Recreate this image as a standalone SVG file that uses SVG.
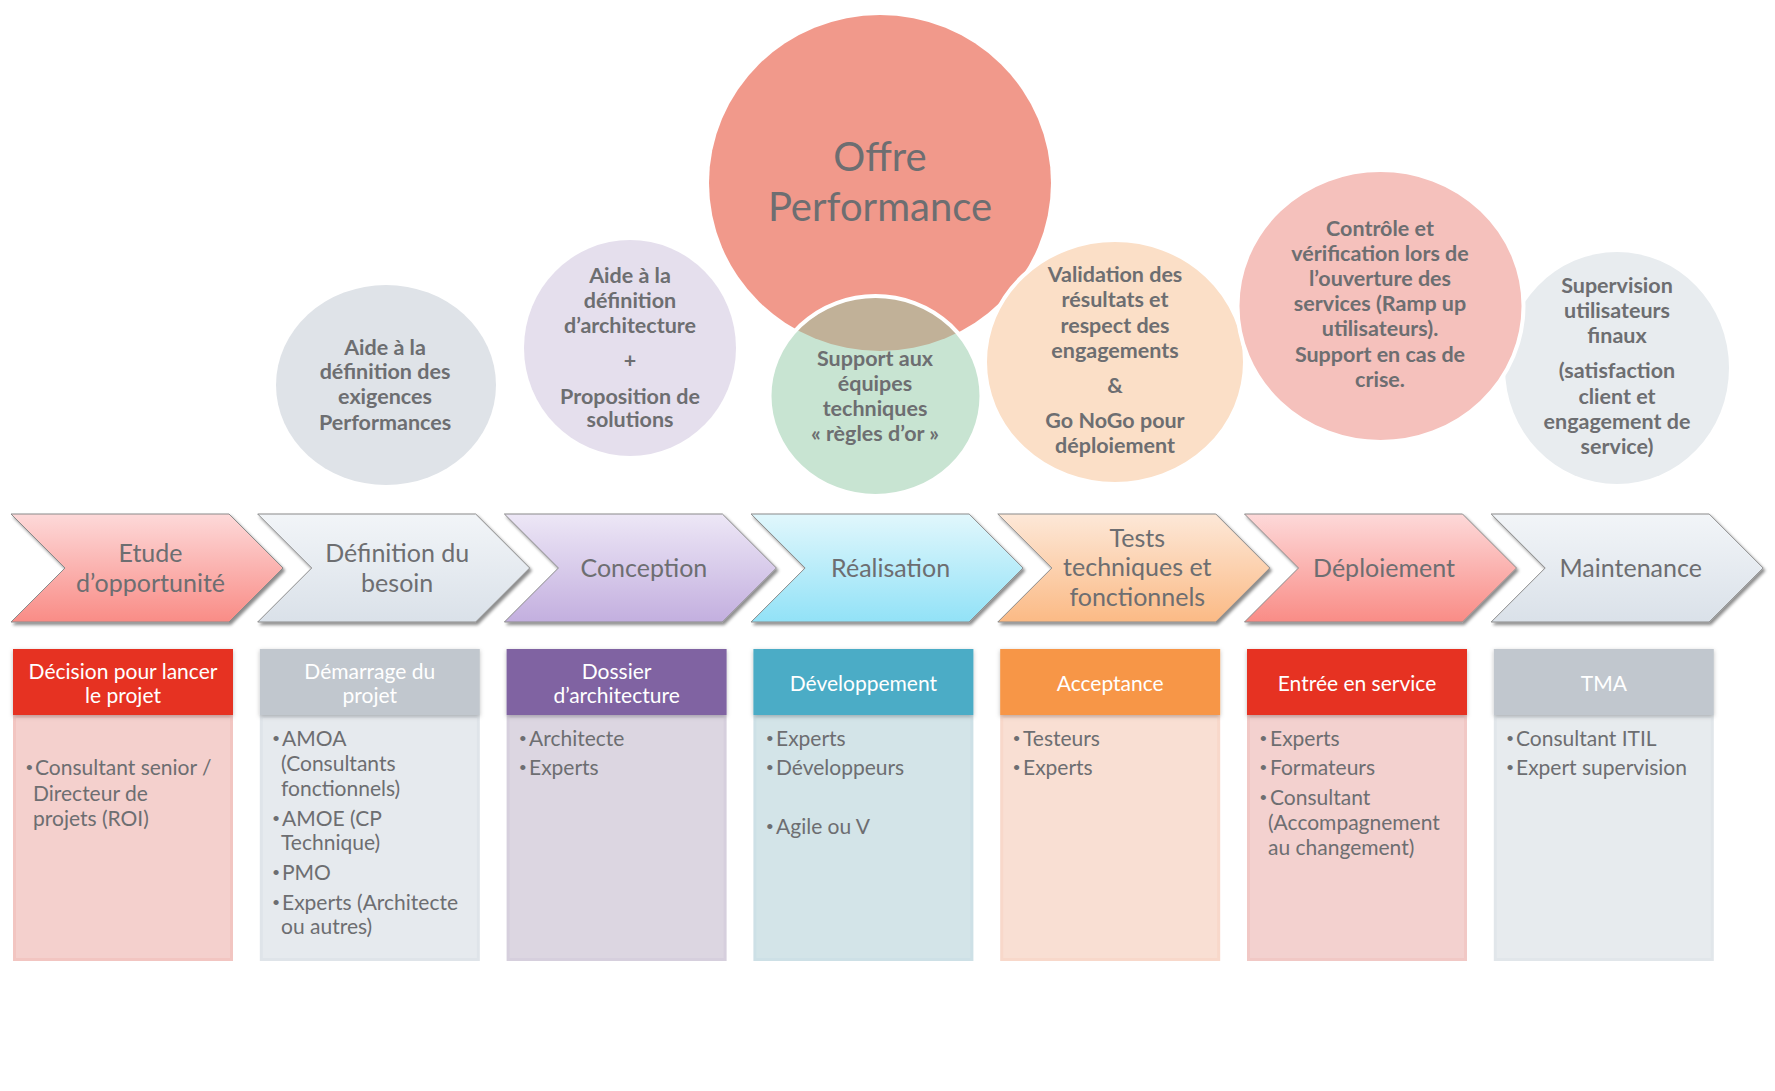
<svg xmlns="http://www.w3.org/2000/svg" width="1775" height="1091" viewBox="0 0 1775 1091">
<defs>
<linearGradient id="gRed" x1="0" y1="0" x2="0" y2="1"><stop offset="0" stop-color="#fdd9d9"/><stop offset="1" stop-color="#f98c86"/></linearGradient>
<linearGradient id="gGray" x1="0" y1="0" x2="0" y2="1"><stop offset="0" stop-color="#f2f5f8"/><stop offset="1" stop-color="#dae1e9"/></linearGradient>
<linearGradient id="gPurple" x1="0" y1="0" x2="0" y2="1"><stop offset="0" stop-color="#ede7f6"/><stop offset="1" stop-color="#c3afdf"/></linearGradient>
<linearGradient id="gCyan" x1="0" y1="0" x2="0" y2="1"><stop offset="0" stop-color="#e1f7fc"/><stop offset="1" stop-color="#92e2f7"/></linearGradient>
<linearGradient id="gOrange" x1="0" y1="0" x2="0" y2="1"><stop offset="0" stop-color="#fde8d8"/><stop offset="1" stop-color="#fbba85"/></linearGradient>
<filter id="shadow" x="-5%" y="-10%" width="115%" height="130%"><feDropShadow dx="2" dy="2.5" stdDeviation="1.5" flood-color="#000" flood-opacity="0.45"/></filter>
<filter id="hshadow" x="-5%" y="-10%" width="110%" height="130%"><feDropShadow dx="0" dy="1.5" stdDeviation="2" flood-color="#000" flood-opacity="0.25"/></filter>
</defs>
<style>
.chev{stroke:#8a8a8a;stroke-width:1;filter:url(#shadow)}
.ct{font-family:Lato,"Liberation Sans",sans-serif;font-size:25px;fill:#6d6e71;text-anchor:middle}
.ht{font-family:Lato,"Liberation Sans",sans-serif;font-size:21px;fill:#ffffff;text-anchor:middle}
.bt{font-family:Lato,"Liberation Sans",sans-serif;font-size:21px;fill:#6d6e71}
.bu{font-family:"Liberation Sans",sans-serif;font-size:19px;fill:#6d6e71}
.cir{font-family:Lato,"Liberation Sans",sans-serif;font-size:21.5px;font-weight:bold;fill:#6d6e71;text-anchor:middle}
.big{font-family:Lato,"Liberation Sans",sans-serif;font-size:40px;fill:#6d6e71;text-anchor:middle}
.hdr{filter:url(#hshadow)}
</style>
<rect width="1775" height="1091" fill="#ffffff"/>

<!-- circles -->
<g id="circle-exigences">
<ellipse cx="386" cy="385" rx="110" ry="100" fill="#dfe3e8"/>
<text class="cir"><tspan x="385" y="355">Aide à la</tspan><tspan x="385" y="379">définition des</tspan><tspan x="385" y="404">exigences</tspan><tspan x="385" y="430">Performances</tspan></text>
</g>
<g id="circle-architecture">
<ellipse cx="630" cy="348" rx="106" ry="108" fill="#e5dfed"/>
<text class="cir"><tspan x="630" y="283">Aide à la</tspan><tspan x="630" y="308">définition</tspan><tspan x="630" y="333">d’architecture</tspan><tspan x="630" y="368">+</tspan><tspan x="630" y="404">Proposition de</tspan><tspan x="630" y="427">solutions</tspan></text>
</g>
<g id="circle-supervision">
<ellipse cx="1617" cy="368" rx="112" ry="116" fill="#e8ecef"/>
</g>
<g id="circle-offre">
<ellipse cx="880" cy="183" rx="171" ry="168" fill="#f1998b"/>
<text class="big"><tspan x="880" y="171">Offre</tspan><tspan x="880" y="221">Performance</tspan></text>
</g>
<g id="circle-support">
<ellipse cx="875.5" cy="396" rx="106" ry="100" fill="#91c9a5" fill-opacity="0.5" stroke="#ffffff" stroke-width="4"/>
<text class="cir"><tspan x="875" y="366">Support aux</tspan><tspan x="875" y="391">équipes</tspan><tspan x="875" y="416">techniques</tspan><tspan x="875" y="441">« règles d’or »</tspan></text>
</g>
<g id="circle-validation">
<ellipse cx="1115" cy="362" rx="130" ry="122" fill="#fbdfc7" stroke="#ffffff" stroke-width="4"/>
<text class="cir"><tspan x="1115" y="282">Validation des</tspan><tspan x="1115" y="307">résultats et</tspan><tspan x="1115" y="333">respect des</tspan><tspan x="1115" y="358">engagements</tspan><tspan x="1115" y="393">&amp;</tspan><tspan x="1115" y="428">Go NoGo pour</tspan><tspan x="1115" y="453">déploiement</tspan></text>
</g>
<g id="circle-controle">
<ellipse cx="1380.5" cy="306" rx="143" ry="136" fill="#f5c1bc" stroke="#ffffff" stroke-width="4"/>
<text class="cir"><tspan x="1380" y="236">Contrôle et</tspan><tspan x="1380" y="261">vérification  lors de</tspan><tspan x="1380" y="286">l’ouverture des</tspan><tspan x="1380" y="311">services (Ramp up</tspan><tspan x="1380" y="336">utilisateurs).</tspan><tspan x="1380" y="362">Support en cas de</tspan><tspan x="1380" y="387">crise.</tspan></text>
</g>
<g id="circle-supervision-text">
<text class="cir"><tspan x="1617" y="293">Supervision</tspan><tspan x="1617" y="318">utilisateurs</tspan><tspan x="1617" y="343">finaux</tspan><tspan x="1617" y="378">(satisfaction</tspan><tspan x="1617" y="404">client et</tspan><tspan x="1617" y="429">engagement de</tspan><tspan x="1617" y="454">service)</tspan></text>
</g>

<!-- chevrons -->
<g id="chevron-etude">
<polygon class="chev" fill="url(#gRed)" points="11,514 229,514 283,568 229,622 11,622 65,568"/>
<text class="ct"><tspan x="150.5" y="562">Etude</tspan><tspan x="150.5" y="592">d’opportunité</tspan></text>
</g>
<g id="chevron-definition">
<polygon class="chev" fill="url(#gGray)" points="257.7,514 475.7,514 529.7,568 475.7,622 257.7,622 311.7,568"/>
<text class="ct"><tspan x="397.2" y="562">Définition du</tspan><tspan x="397.2" y="592">besoin</tspan></text>
</g>
<g id="chevron-conception">
<polygon class="chev" fill="url(#gPurple)" points="504.4,514 722.4,514 776.4,568 722.4,622 504.4,622 558.4,568"/>
<text class="ct" x="643.9" y="577">Conception</text>
</g>
<g id="chevron-realisation">
<polygon class="chev" fill="url(#gCyan)" points="751.1,514 969.1,514 1023.1,568 969.1,622 751.1,622 805.1,568"/>
<text class="ct" x="890.6" y="577">Réalisation</text>
</g>
<g id="chevron-tests">
<polygon class="chev" fill="url(#gOrange)" points="997.8,514 1215.8,514 1269.8,568 1215.8,622 997.8,622 1051.8,568"/>
<text class="ct"><tspan x="1137.3" y="547">Tests</tspan><tspan x="1137.3" y="576">techniques et</tspan><tspan x="1137.3" y="606">fonctionnels</tspan></text>
</g>
<g id="chevron-deploiement">
<polygon class="chev" fill="url(#gRed)" points="1244.5,514 1462.5,514 1516.5,568 1462.5,622 1244.5,622 1298.5,568"/>
<text class="ct" x="1384" y="577">Déploiement</text>
</g>
<g id="chevron-maintenance">
<polygon class="chev" fill="url(#gGray)" points="1491.2,514 1709.2,514 1763.2,568 1709.2,622 1491.2,622 1545.2,568"/>
<text class="ct" x="1630.7" y="577">Maintenance</text>
</g>

<!-- boxes -->
<g id="box-decision">
<rect x="14.5" y="716.5" width="217" height="243" fill="#f4d0cd" stroke="#f2c5c1" stroke-width="3"/>
<rect class="hdr" x="13" y="649" width="220" height="66" fill="#e63323"/>
<text class="ht"><tspan x="123" y="679">Décision pour lancer</tspan><tspan x="123" y="703">le projet</tspan></text>
<text class="bu" x="26" y="774">•</text>
<text class="bt"><tspan x="35" y="775">Consultant senior /</tspan><tspan x="33" y="801">Directeur de</tspan><tspan x="33" y="826">projets (ROI)</tspan></text>
</g>
<g id="box-demarrage">
<rect x="261.3" y="716.5" width="217" height="243" fill="#e6eaee" stroke="#dfe4e9" stroke-width="3"/>
<rect class="hdr" x="259.8" y="649" width="220" height="66" fill="#c1c7ce"/>
<text class="ht"><tspan x="369.8" y="679">Démarrage du</tspan><tspan x="369.8" y="703">projet</tspan></text>
<text class="bu"><tspan x="272.8" y="745">•</tspan><tspan x="272.8" y="825">•</tspan><tspan x="272.8" y="879">•</tspan><tspan x="272.8" y="909">•</tspan></text>
<text class="bt"><tspan x="282" y="746">AMOA</tspan><tspan x="281" y="771">(Consultants</tspan><tspan x="281" y="796">fonctionnels)</tspan><tspan x="282" y="826">AMOE (CP</tspan><tspan x="281" y="850">Technique)</tspan><tspan x="282" y="880">PMO</tspan><tspan x="282" y="910">Experts (Architecte</tspan><tspan x="281" y="934">ou autres)</tspan></text>
</g>
<g id="box-dossier">
<rect x="508.1" y="716.5" width="217" height="243" fill="#dcd6e1" stroke="#d6cfdd" stroke-width="3"/>
<rect class="hdr" x="506.6" y="649" width="220" height="66" fill="#8064a2"/>
<text class="ht"><tspan x="616.6" y="679">Dossier</tspan><tspan x="616.6" y="703">d’architecture</tspan></text>
<text class="bu"><tspan x="519.6" y="745">•</tspan><tspan x="519.6" y="774">•</tspan></text>
<text class="bt"><tspan x="529" y="746">Architecte</tspan><tspan x="529" y="775">Experts</tspan></text>
</g>
<g id="box-developpement">
<rect x="754.9" y="716.5" width="217" height="243" fill="#d3e4e8" stroke="#cde0e6" stroke-width="3"/>
<rect class="hdr" x="753.4" y="649" width="220" height="66" fill="#4bacc6"/>
<text class="ht" x="863.4" y="691">Développement</text>
<text class="bu"><tspan x="766.4" y="745">•</tspan><tspan x="766.4" y="774">•</tspan><tspan x="766.4" y="833">•</tspan></text>
<text class="bt"><tspan x="776" y="746">Experts</tspan><tspan x="776" y="775">Développeurs</tspan><tspan x="776" y="834">Agile ou V</tspan></text>
</g>
<g id="box-acceptance">
<rect x="1001.7" y="716.5" width="217" height="243" fill="#f9dfd3" stroke="#f8d8ca" stroke-width="3"/>
<rect class="hdr" x="1000.2" y="649" width="220" height="66" fill="#f79646"/>
<text class="ht" x="1110.2" y="691">Acceptance</text>
<text class="bu"><tspan x="1013.2" y="745">•</tspan><tspan x="1013.2" y="774">•</tspan></text>
<text class="bt"><tspan x="1023" y="746">Testeurs</tspan><tspan x="1023" y="775">Experts</tspan></text>
</g>
<g id="box-entree">
<rect x="1248.5" y="716.5" width="217" height="243" fill="#f3d1cf" stroke="#f1c8c5" stroke-width="3"/>
<rect class="hdr" x="1247" y="649" width="220" height="66" fill="#e63323"/>
<text class="ht" x="1357" y="691">Entrée en service</text>
<text class="bu"><tspan x="1260" y="745">•</tspan><tspan x="1260" y="774">•</tspan><tspan x="1260" y="804">•</tspan></text>
<text class="bt"><tspan x="1270" y="746">Experts</tspan><tspan x="1270" y="775">Formateurs</tspan><tspan x="1270" y="805">Consultant</tspan><tspan x="1268" y="830">(Accompagnement</tspan><tspan x="1268" y="855">au changement)</tspan></text>
</g>
<g id="box-tma">
<rect x="1495.3" y="716.5" width="217" height="243" fill="#e7ebee" stroke="#e1e6ea" stroke-width="3"/>
<rect class="hdr" x="1493.8" y="649" width="220" height="66" fill="#c1c7ce"/>
<text class="ht" x="1603.8" y="691">TMA</text>
<text class="bu"><tspan x="1506.8" y="745">•</tspan><tspan x="1506.8" y="774">•</tspan></text>
<text class="bt"><tspan x="1516" y="746">Consultant ITIL</tspan><tspan x="1516" y="775">Expert supervision</tspan></text>
</g>
<g id="connectors"/>
</svg>
